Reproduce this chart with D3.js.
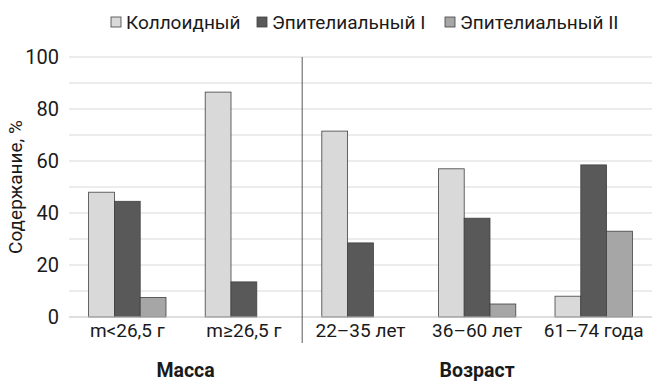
<!DOCTYPE html>
<html>
<head>
<meta charset="utf-8">
<script src="https://cdn.jsdelivr.net/npm/d3@7"></script>
<style>
body { margin: 0; background: #fff; }
text { font-family: Roboto, sans-serif; fill: #1a1a1a; }
</style>
</head>
<body>
<div id="chart"></div>
<script>
var categories = ["m<26,5 г", "m≥26,5 г", "22–35 лет", "36–60 лет", "61–74 года"];
var seriesNames = ["Коллоидный", "Эпителиальный I", "Эпителиальный II"];
var colloid = [48, 86.5, 71.5, 57, 8];
var epi1 = [44.5, 13.5, 28.5, 38, 58.5];
var epi2 = [7.5, 0, 0, 5, 33];
var yTicks = [0, 20, 40, 60, 80, 100];
var groups = [{ name: "Масса", from: 0, to: 1 }, { name: "Возраст", from: 2, to: 4 }];

var colors = ["#d9d9d9", "#595959", "#a6a6a6"];
var series = [colloid, epi1, epi2];

var W = 666, H = 389;
var margin = { top: 57, right: 14, bottom: 72, left: 69 };
var width = W - margin.left - margin.right,
    height = H - margin.top - margin.bottom;

var svg = d3.select("#chart").append("svg")
    .attr("width", W).attr("height", H);
var g = svg.append("g")
    .attr("transform", "translate(" + margin.left + "," + margin.top + ")");

var x = d3.scaleBand().domain(categories).range([0, width]).paddingInner(0).paddingOuter(0);
var x1 = d3.scaleBand().domain([0, 1, 2]).range([0, x.bandwidth()]).paddingInner(0).paddingOuter(0.76);
var y = d3.scaleLinear().domain([0, 100]).range([height, 0]);

// gridlines every 10
g.selectAll(".grid").data(d3.range(10, 101, 10)).enter().append("line")
    .attr("x1", 0).attr("x2", width)
    .attr("y1", d => y(d)).attr("y2", d => y(d))
    .attr("stroke", "#d9d9d9").attr("stroke-width", 1);

var yAxis = d3.axisLeft(y).tickValues(yTicks).tickSize(0).tickPadding(10);
var ya = g.append("g").call(yAxis);
ya.select(".domain").remove();
ya.selectAll("text").style("font-size", "20px").style("font-family", "Roboto").attr("fill", "#1a1a1a");

// bars
var rows = categories.map((c, i) => ({ cat: c, vals: series.map(s => s[i]) }));
var grp = g.selectAll(".grp").data(rows).enter().append("g")
    .attr("transform", d => "translate(" + x(d.cat) + ",0)");
grp.selectAll("rect").data(d => d.vals.map((v, k) => ({ k: k, v: v })).filter(d => d.v > 0))
    .enter().append("rect")
    .attr("x", d => x1(d.k))
    .attr("width", x1.bandwidth())
    .attr("y", d => y(d.v))
    .attr("height", d => y(0) - y(d.v))
    .attr("fill", d => colors[d.k])
    .attr("stroke", "#404040").attr("stroke-width", 0.8);

// baseline
g.append("line").attr("x1", 0).attr("x2", width)
    .attr("y1", y(0)).attr("y2", y(0))
    .attr("stroke", "#bfbfbf").attr("stroke-width", 1);

// x labels
var xAxis = d3.axisBottom(x).tickSize(0).tickPadding(7);
var xa = g.append("g").attr("transform", "translate(0," + height + ")").call(xAxis);
xa.select(".domain").remove();
xa.selectAll("text").style("font-size", "19px").style("font-family", "Roboto").attr("fill", "#1a1a1a");

// divider between groups
g.append("line")
    .attr("x1", x(categories[2])).attr("x2", x(categories[2]))
    .attr("y1", y(100)).attr("y2", height + 26)
    .attr("stroke", "#595959").attr("stroke-width", 1);

// group labels
g.selectAll(".glab").data(groups).enter().append("text")
    .attr("x", d => (x(categories[d.from]) + x(categories[d.to]) + x.bandwidth()) / 2)
    .attr("y", height + 60)
    .attr("text-anchor", "middle")
    .style("font-size", "19.5px").style("font-weight", "bold")
    .text(d => d.name);

// y title
svg.append("text")
    .attr("transform", "translate(22," + (margin.top + height / 2) + ") rotate(-90)")
    .attr("text-anchor", "middle")
    .style("font-size", "19px")
    .text("Содержание, %");

// legend
var legX = [111, 257, 445];
var leg = svg.selectAll(".leg").data(seriesNames).enter().append("g")
    .attr("transform", (d, i) => "translate(" + legX[i] + ",22)");
leg.append("rect").attr("x", 0).attr("y", -5).attr("width", 10).attr("height", 10)
    .attr("fill", (d, i) => colors[i]).attr("stroke", "#404040").attr("stroke-width", 0.8);
leg.append("text").attr("x", 15).attr("y", 7).style("font-size", "19px").text(d => d);
</script>
</body>
</html>
